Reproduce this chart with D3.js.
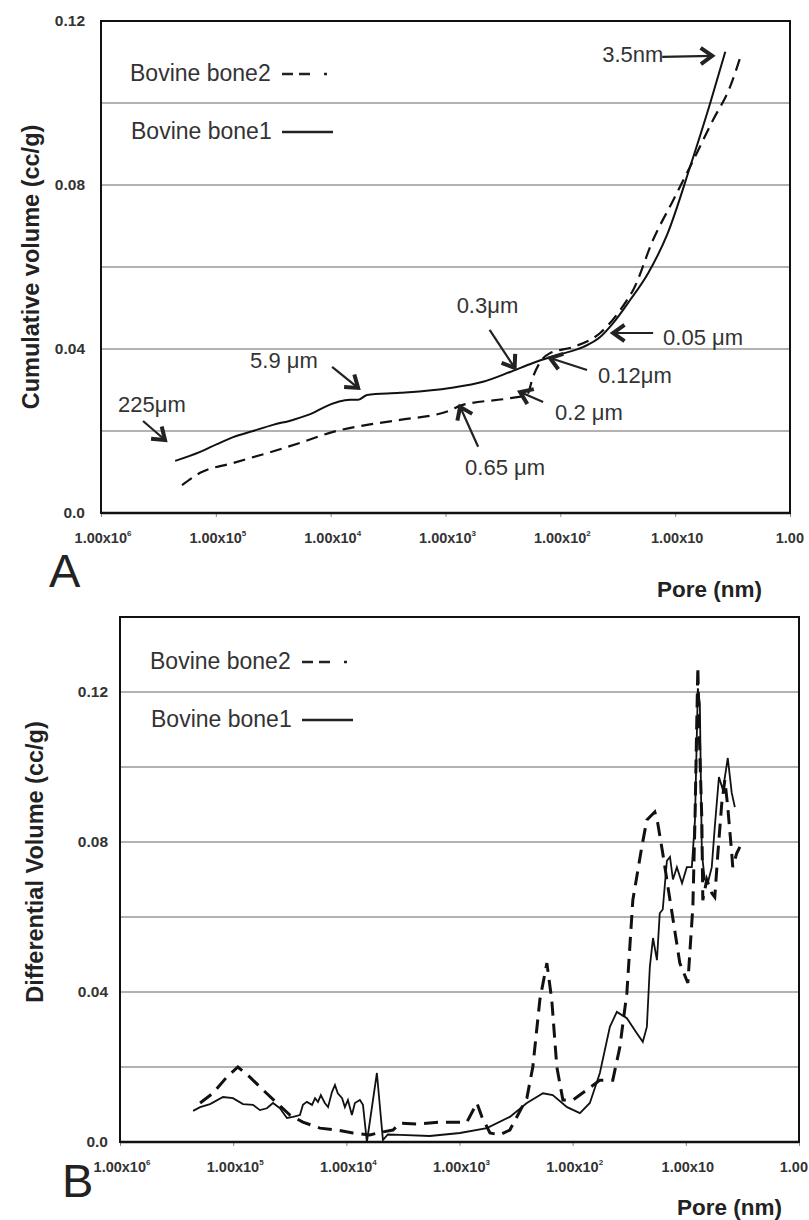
<!DOCTYPE html>
<html>
<head>
<meta charset="utf-8">
<script src="https://cdn.jsdelivr.net/npm/d3@7"></script>
<style>
  body { margin: 0; background: #fff; }
  text { font-family: "Liberation Sans", Arial, sans-serif; }
</style>
</head>
<body>
<svg id="fig" width="809" height="1220"></svg>
<script>
// pore size (nm) / volume (cc/g)
var poreTicks = [1e6, 1e5, 1e4, 1e3, 1e2, 10, 1];
var poreExp = ["6", "5", "4", "3", "2", "", ""];

// panel A: cumulative volume
var cumBone1 = [[226000,0.0127],[137000,0.0149],[97700,0.0168],[70700,0.0185],[47400,0.02],[31800,0.0215],
  [21300,0.0227],[14200,0.0244],[11200,0.0259],[6780,0.0276],[5770,0.0276],[4820,0.0288],[2490,0.0293],
  [912,0.0305],[471,0.032],[274,0.0344],[173,0.0366],[107,0.0385],[63,0.0405],[45,0.0429],[34.7,0.0463],
  [24.6,0.052],[17.2,0.0585],[11.7,0.068],[7.4,0.0845],[4.95,0.1],[3.66,0.1125]];
var cumBone2 = [[197000,0.0068],[137000,0.0098],[70700,0.0122],[35800,0.0146],[18500,0.0171],[9530,0.0198],
  [4820,0.0215],[2490,0.0227],[912,0.025],[746,0.0262],[274,0.028],[195,0.0288],[173,0.0332],[150,0.0368],
  [123,0.039],[77,0.0405],[45,0.0439],[26.2,0.052],[23.2,0.0544],[15.6,0.0666],[10.4,0.0763],[7.4,0.0845],
  [4.67,0.0959],[3.32,0.104],[2.72,0.111]];
var cumGrid = [0.02, 0.04, 0.06, 0.08, 0.1];
var cumLabels = [0, 0.04, 0.08, 0.12];

// panel B: differential volume
var diffBone1 = [[226000,0.0083],[196000,0.0093],[160000,0.0101],[123000,0.012],[100500,0.0117],[81900,0.0101],
  [66800,0.0099],[58000,0.0085],[50300,0.009],[44500,0.0104],[38600,0.009],[33500,0.0064],[29600,0.0067],
  [25700,0.0072],[24200,0.0099],[22300,0.0107],[20100,0.0099],[18900,0.0117],[17800,0.0107],[16800,0.0125],
  [15500,0.0104],[14500,0.0093],[13400,0.0133],[12600,0.0152],[11900,0.013],[10900,0.0117],[10300,0.0093],
  [9680,0.0112],[8930,0.0072],[8400,0.0104],[7590,0.0112],[7130,0.0099],[6580,0.0],[5370,0.0184],
  [4750,0.0005],[4300,0.002],[3360,0.0019],[1830,0.0016],[991,0.0024],[573,0.0037],[359,0.0067],
  [254,0.0104],[183,0.013],[150,0.0125],[112,0.0093],[86.3,0.0077],[70.5,0.0104],[57.5,0.0184],
  [46.9,0.0307],[40.7,0.0347],[33.2,0.033],[27.1,0.029],[24,0.0267],[22.1,0.0307],[20.8,0.0467],
  [19.5,0.0544],[18,0.0485],[17,0.061],[16,0.062],[14.7,0.075],[13.8,0.076],[13,0.07],[12,0.0733],
  [10.8,0.069],[9.8,0.0733],[8.85,0.0733],[8.3,0.0859],[7.83,0.121],[7.52,0.117],[7.22,0.077],
  [6.8,0.07],[6.4,0.069],[5.9,0.0733],[5.55,0.084],[5.1,0.0973],[4.7,0.0939],[4.26,0.1024],
  [3.93,0.0931],[3.69,0.0893]];
var diffBone2 = [[196000,0.0104],[151000,0.013],[114000,0.0173],[90800,0.02],[71100,0.0173],[54600,0.0139],
  [41000,0.0104],[31500,0.0072],[24200,0.0053],[17100,0.0037],[12100,0.0032],[8750,0.0024],[6190,0.0019],
  [4750,0.0027],[3870,0.0032],[3360,0.005],[2380,0.0048],[1490,0.0053],[861,0.0053],[702,0.0104],
  [634,0.0067],[538,0.0024],[440,0.0019],[359,0.0032],[254,0.0117],[225,0.02],[195,0.0379],[169,0.0477],
  [153,0.0379],[138,0.02],[122,0.0112],[99.5,0.0112],[75,0.0139],[57.5,0.0165],[44.2,0.0165],
  [38.3,0.0253],[33.2,0.0397],[29.4,0.0645],[24.5,0.0787],[22.1,0.0859],[18.8,0.088],[17.7,0.085],
  [16,0.077],[13.8,0.0645],[11.3,0.0477],[9.6,0.0424],[8.67,0.0627],[8.3,0.0859],[8,0.1125],
  [7.83,0.1267],[7.67,0.1125],[7.22,0.0859],[7.08,0.0645],[6.53,0.07],[5.9,0.0664],[5.55,0.0653],
  [5.21,0.077],[4.81,0.0904],[4.52,0.0965],[4.26,0.0893],[3.93,0.077],[3.85,0.0733],[3.55,0.077],
  [3.33,0.0787]];
var diffGrid = [0.02, 0.04, 0.06, 0.08, 0.1, 0.12];
var diffLabels = [0, 0.04, 0.08, 0.12];

// arrows in panel A: label, pore and volume the arrow points at
var cumNotes = [
  { text: "3.5nm", pore: 4.76, vol: 0.1115, tail: [-50, 1], lab: [-110, 6] },
  { text: "225\u03bcm", pore: 277000, vol: 0.0178, tail: [-22, -19], lab: [-47, -28] },
  { text: "5.9 \u03bcm", pore: 5770, vol: 0.0305, tail: [-26, -21], lab: [-108, -20] },
  { text: "0.3\u03bcm", pore: 250, vol: 0.0354, tail: [-25, -38], lab: [-58, -55] },
  { text: "0.05 \u03bcm", pore: 34.7, vol: 0.0439, tail: [40, 0], lab: [50, 12] },
  { text: "0.12\u03bcm", pore: 123, vol: 0.0378, tail: [37, 12], lab: [48, 25] },
  { text: "0.2 \u03bcm", pore: 224, vol: 0.0295, tail: [23, 10], lab: [35, 28] },
  { text: "0.65 \u03bcm", pore: 746, vol: 0.0259, tail: [18, 40], lab: [5, 68] }
];

var svg = d3.select("#fig");
var svgWidth = 809;

function drawArrow(g, hx, hy, tx, ty) {
  g.append("line")
    .attr("x1", tx).attr("y1", ty).attr("x2", hx).attr("y2", hy)
    .attr("stroke", "#222").attr("stroke-width", 2.2);
  var a = Math.atan2(hy - ty, hx - tx);
  var L = 14, s = 0.62;
  var p1 = [hx - L * Math.cos(a - s), hy - L * Math.sin(a - s)];
  var p2 = [hx - L * Math.cos(a + s), hy - L * Math.sin(a + s)];
  g.append("path")
    .attr("d", "M" + p1 + "L" + [hx, hy] + "L" + p2)
    .attr("fill", "none").attr("stroke", "#222")
    .attr("stroke-width", 4).attr("stroke-linejoin", "miter");
}

function drawPanel(p) {
  var g = svg.append("g");

  var x = d3.scaleLog().domain([1e6, 1]).range([p.left, p.right]);
  var y = d3.scaleLinear().domain([0, p.yMax]).range([p.bottom, p.top]);

  // gridlines
  g.selectAll(".grid")
    .data(p.grid)
    .enter()
    .append("line")
    .attr("x1", p.left).attr("x2", p.right)
    .attr("y1", d => y(d)).attr("y2", d => y(d))
    .attr("stroke", "#666").attr("stroke-width", 1.1);

  // x axis ticks
  var xAxis = g.append("g")
    .attr("transform", `translate(0, ${p.bottom})`)
    .call(d3.axisBottom(x).tickValues(poreTicks).tickSize(4).tickFormat(""));
  xAxis.select(".domain").remove();
  xAxis.selectAll("line").attr("stroke", "#888");

  // x tick labels, 1.00x10^n (last one kept inside the page)
  var xl = g.selectAll(".xlab")
    .data(poreTicks)
    .enter()
    .append("text")
    .attr("x", d => d === 1 ? Math.min(x(d) + 14, svgWidth - 1) : x(d) + 2)
    .attr("y", p.bottom + 30)
    .attr("text-anchor", d => d === 1 ? "end" : "middle")
    .attr("font-size", 14.5)
    .attr("font-weight", "bold")
    .attr("fill", "#333");
  xl.append("tspan").text(d => d === 1 ? "1.00" : "1.00x10");
  xl.append("tspan")
    .attr("font-size", 8)
    .attr("dy", -7)
    .text((d, i) => poreExp[i]);

  // y tick labels
  var yAxis = g.append("g")
    .attr("transform", `translate(${p.left}, 0)`)
    .call(d3.axisLeft(y).tickValues(p.labels).tickSize(0).tickPadding(p.pad)
      .tickFormat(d => d === 0 ? "0.0" : d3.format(".2f")(d)));
  yAxis.select(".domain").remove();
  yAxis.selectAll("text")
    .attr("font-family", "Liberation Sans, Arial, sans-serif")
    .attr("font-size", 15.5)
    .attr("font-weight", "bold")
    .attr("fill", "#333");

  // frame
  g.append("rect")
    .attr("x", p.left).attr("y", p.top)
    .attr("width", p.right - p.left).attr("height", p.bottom - p.top)
    .attr("fill", "none").attr("stroke", "#111").attr("stroke-width", 2);
  g.append("line")
    .attr("x1", p.left).attr("x2", p.right)
    .attr("y1", p.bottom).attr("y2", p.bottom)
    .attr("stroke", "#111").attr("stroke-width", 2.6);

  // series
  var line = d3.line()
    .x(d => x(d[0]))
    .y(d => y(d[1]))
    .curve(p.curve);

  g.append("path")
    .datum(p.bone2)
    .attr("d", line)
    .attr("fill", "none").attr("stroke", "#111")
    .attr("stroke-width", p.dashWidth)
    .attr("stroke-dasharray", p.dash);

  g.append("path")
    .datum(p.bone1)
    .attr("d", line)
    .attr("fill", "none").attr("stroke", "#111")
    .attr("stroke-width", p.solidWidth);

  // legend
  g.append("text")
    .attr("x", p.legX).attr("y", p.legY)
    .attr("font-size", 23).attr("fill", "#333")
    .text("Bovine bone2");
  g.append("path")
    .attr("d", `M${p.legX + 152},${p.legY - 7}h48`)
    .attr("stroke", "#222").attr("stroke-width", 2.6)
    .attr("stroke-dasharray", "11,6,11,14,3,20");
  g.append("text")
    .attr("x", p.legX + 1).attr("y", p.legY + 58)
    .attr("font-size", 23).attr("fill", "#333")
    .text("Bovine bone1");
  g.append("line")
    .attr("x1", p.legX + 152).attr("x2", p.legX + 203)
    .attr("y1", p.legY + 51).attr("y2", p.legY + 51)
    .attr("stroke", "#222").attr("stroke-width", 2.6);

  // axis titles
  g.append("text")
    .attr("transform", `translate(${p.titleX}, ${p.titleY}) rotate(-90)`)
    .attr("text-anchor", "middle")
    .attr("font-size", 23.5).attr("font-weight", "bold").attr("fill", "#222")
    .text(p.yTitle);
  g.append("text")
    .attr("x", p.right - p.poreRight).attr("y", p.bottom + p.poreY)
    .attr("text-anchor", "end")
    .attr("font-size", 22.5).attr("font-weight", "bold").attr("fill", "#222")
    .text("Pore (nm)");

  // panel letter
  g.append("text")
    .attr("x", p.letterX).attr("y", p.letterY)
    .attr("font-size", 47).attr("fill", "#222")
    .text(p.letter);

  // annotations
  (p.notes || []).forEach(function(n) {
    var hx = x(n.pore), hy = y(n.vol);
    drawArrow(g, hx, hy, hx + n.tail[0], hy + n.tail[1]);
    g.append("text")
      .attr("x", hx + n.lab[0]).attr("y", hy + n.lab[1])
      .attr("font-size", 22).attr("fill", "#333")
      .text(n.text);
  });
}

drawPanel({
  left: 101, right: 790, top: 21, bottom: 513, yMax: 0.12,
  grid: cumGrid, labels: cumLabels, pad: 16,
  bone1: cumBone1, bone2: cumBone2,
  curve: d3.curveMonotoneX, dash: "12,7", dashWidth: 2.2, solidWidth: 2,
  legX: 130, legY: 81,
  titleX: 39, titleY: 267, yTitle: "Cumulative volume (cc/g)",
  poreRight: 28, poreY: 84,
  letter: "A", letterX: 49, letterY: 587,
  notes: cumNotes
});

drawPanel({
  left: 120, right: 799, top: 617, bottom: 1142, yMax: 0.14,
  grid: diffGrid, labels: diffLabels, pad: 12,
  bone1: diffBone1, bone2: diffBone2,
  curve: d3.curveLinear, dash: "14,8", dashWidth: 3, solidWidth: 1.8,
  legX: 150, legY: 669,
  titleX: 43, titleY: 862, yTitle: "Differential Volume (cc/g)",
  poreRight: 17, poreY: 73,
  letter: "B", letterX: 62, letterY: 1197
});
</script>
</body>
</html>
